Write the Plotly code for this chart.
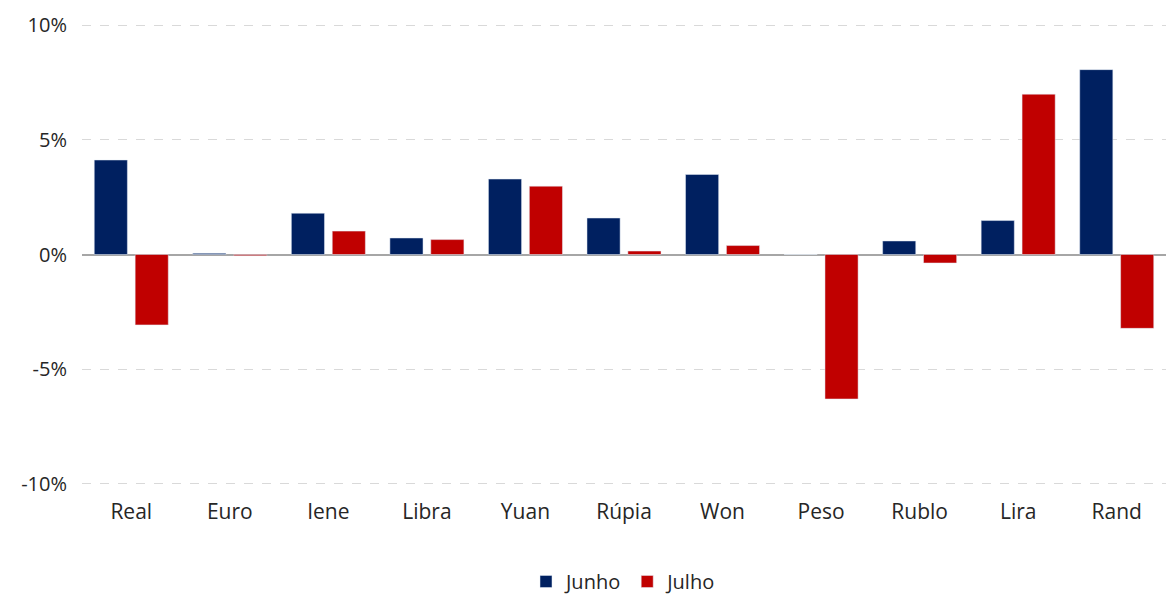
import plotly.graph_objects as go

categories = ["Real", "Euro", "Iene", "Libra", "Yuan", "Rúpia", "Won", "Peso", "Rublo", "Lira", "Rand"]
junho = [4.12, 0.05, 1.80, 0.72, 3.29, 1.59, 3.49, 0.0, 0.59, 1.48, 8.06]
julho = [-3.07, -0.05, 1.02, 0.65, 2.98, 0.15, 0.39, -6.30, -0.37, 6.99, -3.22]
y_ticks = [-10, -5, 0, 5, 10]
y_tick_labels = ["-10%", "-5%", "0%", "5%", "10%"]

fig = go.Figure()
fig.add_trace(go.Bar(x=categories, y=junho, name="Junho", marker_color="#002060"))
fig.add_trace(go.Bar(x=categories, y=julho, name="Julho", marker_color="#C00000"))

fig.update_layout(
    width=1166, height=601,
    margin=dict(l=82, r=0, t=24, b=116, autoexpand=False),
    paper_bgcolor="white", plot_bgcolor="white",
    barmode="group", bargap=0.17, bargroupgap=0.19,
    font=dict(family="Open Sans, Lato, sans-serif", color="#262626", size=21),
    showlegend=True,
    legend=dict(orientation="h", x=0.5, xanchor="center", y=-0.2516, yanchor="bottom",
                font=dict(size=20), itemwidth=30, traceorder="normal",
                tracegroupgap=0, borderwidth=0),
)
fig.update_xaxes(showgrid=False, showline=False, ticks="", tickfont=dict(size=21),
                 ticklabelstandoff=12, automargin=False)
fig.update_yaxes(range=[-10.05, 10.05], tickvals=y_ticks, ticktext=y_tick_labels,
                 showgrid=True, gridcolor="#d9d9d9", griddash="dash", gridwidth=1,
                 zeroline=True, zerolinecolor="#a6a6a6", zerolinewidth=2,
                 tickfont=dict(size=20), ticklabelstandoff=14, automargin=False)

fig.write_html(
    "out.html",
    config={"displayModeBar": False},
    post_script="document.body.style.margin='0';document.body.style.overflow='hidden';",
)
